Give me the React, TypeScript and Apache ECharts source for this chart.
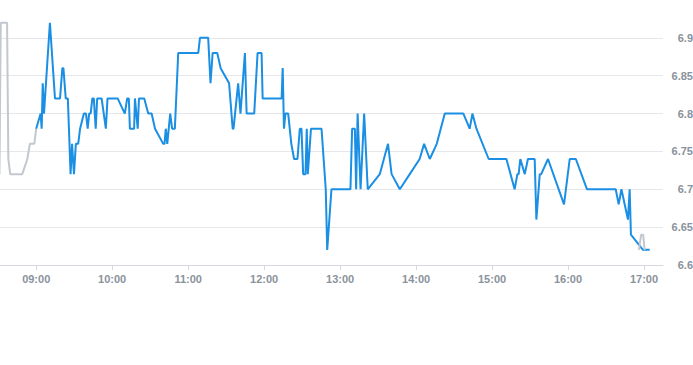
import React, { useEffect, useRef } from "react";
import * as echarts from "echarts";

// Pre-market (gray) segment
const preTimes = ["08:31", "08:32", "08:37", "08:38", "08:39:30", "08:49", "08:53", "08:55", "08:58:30", "09:00"];
const preValues = [6.72, 6.92, 6.92, 6.74, 6.72, 6.72, 6.74, 6.76, 6.76, 6.78];

// Post segment (gray)
const postTimes = ["16:56", "16:57:45", "16:59:20", "17:00:30"];
const postValues = [6.62, 6.64, 6.64, 6.62];

// Main session (blue)
const mainTimes = [
  "09:00", "09:03:30", "09:04:20", "09:05:10", "09:06:10", "09:10:50", "09:14:50", "09:18:50", "09:20:40", "09:21:30",
  "09:23:20", "09:25", "09:27:10", "09:28:20", "09:29:50", "09:31:20", "09:33:10", "09:34:40", "09:37:40", "09:39:20",
  "09:40:40", "09:41:50", "09:43", "09:44:20", "09:45:30", "09:47", "09:48:10", "09:51:40", "09:55", "09:56:20",
  "10:04:20", "10:10", "10:11:50", "10:13:10", "10:14", "10:17:20", "10:18", "10:20:10", "10:21:10", "10:25:20",
  "10:28:30", "10:31:10", "10:33:50", "10:40:20", "10:41:20", "10:42:20", "10:43:30", "10:45:50", "10:47:20", "10:49:30",
  "10:52:10", "11:08", "11:09:20", "11:15:50", "11:17:40", "11:19:20", "11:23", "11:25:40", "11:32:20", "11:35:10",
  "11:35:50", "11:39:30", "11:41:20", "11:44:50", "11:46:10", "11:52:10", "11:54:50", "11:58", "11:58:50", "12:13:50",
  "12:14:40", "12:15:40", "12:16:50", "12:19", "12:21:30", "12:23:40", "12:26:20", "12:28:10", "12:29:30", "12:30:50",
  "12:32:40", "12:33:40", "12:34:30", "12:37", "12:45:20", "12:48:40", "12:49:50", "12:53:10", "13:08:10", "13:09:30",
  "13:11:40", "13:12:40", "13:13:50", "13:16:10", "13:19", "13:21:50", "13:31:20", "13:37:50", "13:40:40", "13:47:10",
  "13:55", "14:02:50", "14:06:20", "14:10:50", "14:16:20", "14:22:40", "14:37:20", "14:42:20", "14:44:30", "14:47:40",
  "14:57:20", "15:11:20", "15:17:50", "15:20", "15:21", "15:22:20", "15:25:50", "15:28:20", "15:33:40", "15:35",
  "15:37:40", "15:38:50", "15:44:10", "15:56:50", "16:01:20", "16:06:10", "16:15", "16:37:40", "16:40", "16:42:10",
  "16:47:20", "16:48:40", "16:49:40", "16:59:10", "17:04:30",
];
const mainValues = [
  6.78, 6.80, 6.78, 6.84, 6.80, 6.92, 6.82, 6.82, 6.86, 6.86,
  6.82, 6.82, 6.72, 6.76, 6.72, 6.76, 6.76, 6.78, 6.80, 6.80,
  6.78, 6.80, 6.80, 6.82, 6.82, 6.78, 6.82, 6.82, 6.78, 6.82,
  6.82, 6.80, 6.82, 6.82, 6.78, 6.78, 6.82, 6.78, 6.82, 6.82,
  6.80, 6.80, 6.78, 6.76, 6.76, 6.78, 6.76, 6.80, 6.78, 6.78,
  6.88, 6.88, 6.90, 6.90, 6.84, 6.88, 6.88, 6.86, 6.84, 6.78,
  6.78, 6.84, 6.80, 6.88, 6.80, 6.80, 6.88, 6.88, 6.82, 6.82,
  6.86, 6.78, 6.80, 6.80, 6.76, 6.74, 6.74, 6.78, 6.78, 6.72,
  6.72, 6.78, 6.72, 6.78, 6.78, 6.70, 6.62, 6.70, 6.70, 6.78,
  6.78, 6.70, 6.80, 6.70, 6.80, 6.70, 6.72, 6.76, 6.72, 6.70,
  6.72, 6.74, 6.76, 6.74, 6.76, 6.80, 6.80, 6.78, 6.80, 6.78,
  6.74, 6.74, 6.70, 6.72, 6.72, 6.74, 6.72, 6.74, 6.74, 6.66,
  6.72, 6.72, 6.74, 6.68, 6.74, 6.74, 6.70, 6.70, 6.68, 6.70,
  6.66, 6.70, 6.64, 6.62, 6.62,
];

const axisStart = "08:30";
const axisEnd = "17:15";
const yMin = 6.6;
const yMax = 6.95;
const yStep = 0.05;

const parseT = (s: string) => {
  const [h, m, sec] = s.split(":").map(Number);
  return new Date(2024, 0, 2, h, m, sec || 0).getTime();
};
const pad = (n: number) => String(n).padStart(2, "0");
const zip = (ts: string[], vs: number[]) => ts.map((t, i) => [parseT(t), vs[i]]);

const LABEL = "#8a929c";
const FONT = "'Liberation Sans', Arial, sans-serif";

export default function App() {
  const ref = useRef<HTMLDivElement>(null);
  useEffect(() => {
    if (!ref.current) return;
    const chart = echarts.init(ref.current, null, { renderer: "svg" });
    chart.setOption({
      animation: false,
      grid: { left: -1.8, right: 30, top: 0, bottom: 100, containLabel: false, outerBoundsMode: "none" },
      xAxis: {
        type: "time",
        min: parseT(axisStart),
        max: parseT(axisEnd),
        minInterval: 3600000,
        maxInterval: 3600000,
        splitLine: { show: false },
        axisLine: { lineStyle: { color: "#d5d9de" } },
        axisTick: { show: true, length: 5, lineStyle: { color: "#d5d9de" } },
        axisLabel: {
          color: LABEL,
          fontSize: 11,
          fontWeight: "bold",
          fontFamily: FONT,
          hideOverlap: false,
          formatter: (v: number) => {
            const d = new Date(v);
            return pad(d.getHours()) + ":" + pad(d.getMinutes());
          },
        },
      },
      yAxis: {
        type: "value",
        position: "right",
        min: yMin,
        max: yMax,
        interval: yStep,
        axisLine: { show: false },
        axisTick: { show: false },
        splitLine: { show: true, showMaxLine: false, lineStyle: { color: "#e5e7eb" } },
        axisLabel: {
          showMaxLabel: false,
          align: "right",
          margin: 30,
          color: LABEL,
          fontSize: 11,
          fontWeight: "bold",
          fontFamily: FONT,
          formatter: (v: number) => String(+v.toFixed(2)),
        },
      },
      series: [
        {
          type: "line",
          data: zip(mainTimes, mainValues),
          showSymbol: false,
          lineStyle: { color: "#1a8fe3", width: 2 },
          itemStyle: { color: "#1a8fe3" },
          z: 2,
        },
        {
          type: "line",
          data: zip(preTimes, preValues),
          showSymbol: false,
          lineStyle: { color: "#c3c8cf", width: 2 },
          itemStyle: { color: "#c3c8cf" },
          z: 1,
        },
        {
          type: "line",
          data: zip(postTimes, postValues),
          showSymbol: false,
          lineStyle: { color: "#c3c8cf", width: 2 },
          itemStyle: { color: "#c3c8cf" },
          z: 3,
        },
      ],
    });
    return () => chart.dispose();
  }, []);
  return (
    <div
      ref={ref}
      style={{ position: "absolute", left: 0, top: 0, width: 693, height: 365 }}
    />
  );
}
